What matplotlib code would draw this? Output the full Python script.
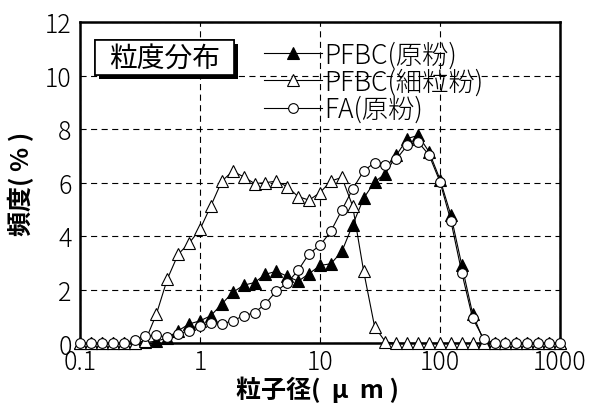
import numpy as np
import matplotlib
matplotlib.use('Agg')
import matplotlib.pyplot as plt
import matplotlib.patheffects as pe
from matplotlib.patches import Rectangle

plt.rcParams['font.family'] = ['Noto Sans CJK JP', 'DejaVu Sans']
plt.rcParams['font.weight'] = 'light'

# 粒子径 (um) : 1/11 decade steps from 0.1 to 1000
size_um = [0.1, 0.123, 0.152, 0.187, 0.231, 0.285, 0.351, 0.433, 0.534, 0.658, 0.811,
           1.0, 1.23, 1.52, 1.87, 2.31, 2.85, 3.51, 4.33, 5.34, 6.58, 8.11,
           10.0, 12.3, 15.2, 18.7, 23.1, 28.5, 35.1, 43.3, 53.4, 65.8, 81.1,
           100.0, 123, 152, 187, 231, 285, 351, 433, 534, 658, 811, 1000]

# 頻度 (%)
pfbc_raw = [0, 0, 0, 0, 0, 0, 0.03, 0.08, 0.2, 0.47, 0.72,
            0.84, 1.03, 1.47, 1.90, 2.17, 2.27, 2.58, 2.69, 2.50, 2.32, 2.60,
            2.91, 2.97, 3.43, 4.42, 5.42, 6.03, 6.34, 7.03, 7.65, 7.77, 7.15,
            6.12, 4.80, 2.91, 1.10, 0.09, 0, 0, 0, 0, 0, 0, 0]
pfbc_fine = [0, 0, 0, 0, 0, 0, 0.1, 1.09, 2.40, 3.33, 3.74,
             4.26, 5.13, 6.06, 6.43, 6.22, 5.97, 6.0, 6.06, 5.85, 5.48, 5.35,
             5.63, 6.06, 6.2, 5.13, 2.69, 0.62, 0.05, 0, 0, 0, 0,
             0, 0, 0, 0, 0, 0, 0, 0, 0, 0, 0, 0]
fa_raw = [0, 0, 0, 0, 0, 0.14, 0.26, 0.31, 0.22, 0.35, 0.47,
          0.66, 0.76, 0.72, 0.84, 1.03, 1.14, 1.48, 1.95, 2.26, 2.73, 3.35,
          3.66, 4.18, 4.98, 5.76, 6.44, 6.75, 6.68, 6.88, 7.40, 7.52, 7.03,
          6.03, 4.58, 2.63, 0.93, 0.17, 0, 0, 0, 0, 0, 0, 0]

labels = ['PFBC(原粉)', 'PFBC(細粒粉)', 'FA(原粉)']
xticks = [0.1, 1, 10, 100, 1000]
xticklabels = ['0.1', '1', '10', '100', '1000']
yticks = [0, 2, 4, 6, 8, 10, 12]

fig = plt.figure(figsize=(5.91, 4.06), dpi=100)
ax = fig.add_axes([0.1354, 0.152, 0.8122, 0.791])

kw = dict(color='k', lw=0.8, mew=0.8, mec='k', clip_on=False, zorder=3)
ax.plot(size_um, pfbc_raw, marker='^', ms=8, mfc='k', label=labels[0], **kw)
ax.plot(size_um, pfbc_fine, marker='^', ms=8, mfc='w', label=labels[1], **kw)
ax.plot(size_um, fa_raw, marker='o', ms=7, mfc='w', label=labels[2], **kw)

ax.set_xscale('log')
ax.set_xlim(0.1, 1000)
ax.set_ylim(0, 12)
ax.set_xticks(xticks)
ax.set_xticklabels(xticklabels)
ax.xaxis.set_minor_locator(matplotlib.ticker.NullLocator())
ax.set_yticks(yticks)
ax.tick_params(length=0, labelsize=18, pad=6)
ax.tick_params(axis='x', pad=4)
ax.grid(True, color='k', lw=0.8, linestyle=(0, (5.5, 4)))
for sp in ax.spines.values():
    sp.set_linewidth(1.8)

ax.set_xlabel('粒子径(  μ  m )', fontsize=18, fontweight='bold')
ax.set_ylabel('頻度( % )', fontsize=18, fontweight='bold')
ax.xaxis.set_label_coords(0.495, -0.1)
ax.yaxis.set_label_coords(-0.095, 0.5)

# 見出しの枠 (影付き)
box = Rectangle((0.031, 0.835), 0.29, 0.109, transform=ax.transAxes,
                fc='w', ec='k', lw=1.2, zorder=4)
box.set_path_effects([
    pe.withSimplePatchShadow(offset=(3, -3), shadow_rgbFace='k', alpha=1.0),
    pe.Normal()])
ax.add_patch(box)
ax.text(0.176, 0.89, '粒度分布', transform=ax.transAxes, fontsize=20,
        fontweight='normal', ha='center', va='center', zorder=5)

leg = ax.legend(loc='upper left', bbox_to_anchor=(0.383, 0.943), frameon=False,
                fontsize=19, handlelength=2.2, handletextpad=0.1,
                labelspacing=-0.03, borderpad=0, borderaxespad=0)

fig.savefig('out.png', dpi=100)
